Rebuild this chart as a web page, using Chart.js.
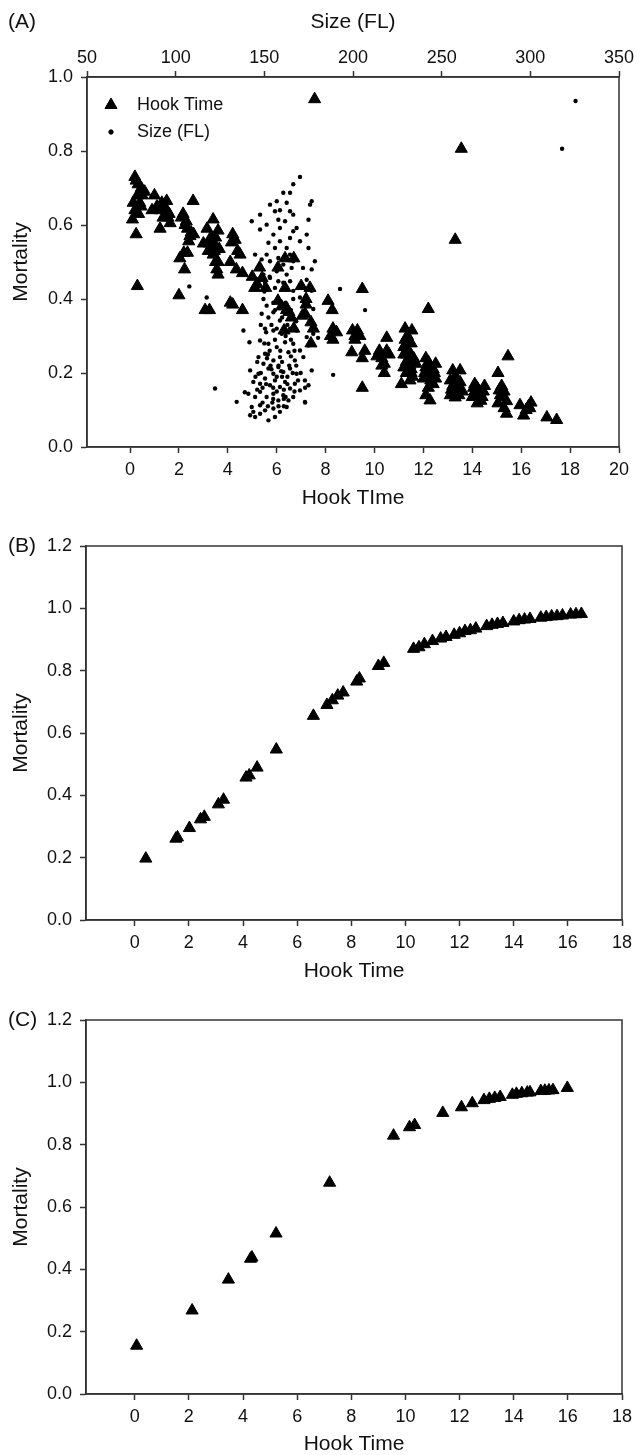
<!DOCTYPE html>
<html>
<head>
<meta charset="utf-8">
<script src="https://cdn.jsdelivr.net/npm/chart.js@4.4.1/dist/chart.umd.min.js"></script>
<style>
  html, body { margin: 0; padding: 0; background: #fff; overflow: hidden; }
  #wrap { position: relative; width: 640px; height: 1455px; }
  canvas { position: absolute; left: 0; }
</style>
</head>
<body>
<div id="wrap">
  <canvas id="chartA" width="640" height="515" style="top:0px"></canvas>
  <canvas id="chartB" width="640" height="470" style="top:515px"></canvas>
  <canvas id="chartC" width="640" height="470" style="top:985px"></canvas>
</div>
<script>
// ---- data ----

// panel A, triangles: hook time vs mortality
const hookTimeA = [
  0.2, 0.33, 0.46, 0.6, 0.13, 0.4, 0.1, 0.35, 0.25, 0.3, 0.25, 0.5, 0.2, 0.45,
  1.0, 1.1, 1.25, 1.23, 1.5, 1.5, 1.35, 1.55, 1.64, 0.9, 1.4, 1.6,
  2.17, 2.3, 2.35, 2.5, 2.4, 2.35, 2.04, 2.23, 2.0, 2.58, 2.1, 2.45, 2.6, 2.2,
  3.15, 3.3, 3.24, 3.45, 3.4, 3.6, 3.5, 3.65, 3.6, 3.6, 3.07, 3.0, 3.2, 3.4, 3.5, 3.3, 3.55, 3.25,
  4.1, 4.6, 4.2, 4.15, 4.4, 4.1, 4.35, 4.6, 5.0, 5.1, 5.3, 5.4, 5.55, 4.5, 4.3, 5.2, 4.2,
  6.34, 6.05, 6.34, 6.7, 6.05, 6.4, 6.5, 6.3, 6.7, 7.0, 7.36, 7.2, 7.2, 7.4, 7.5, 7.4, 7.05, 7.16, 6.6, 6.2, 7.55,
  8.1, 8.27, 8.3, 8.45, 8.3, 9.5, 9.5, 9.1, 9.3, 9.4, 9.07, 9.6, 9.5, 8.2, 9.2,
  10.2, 10.5, 10.5, 10.4, 10.4, 10.1, 10.3, 10.6,
  11.25, 11.53, 11.25, 11.5, 11.2, 11.4, 11.2, 11.5, 11.1, 11.7, 11.55, 11.3, 11.4, 11.6, 11.3, 11.45, 11.35, 12.2,
  12.1, 12.1, 12.3, 12.0, 12.5, 12.4, 12.27, 12.1, 12.2, 12.35, 12.45, 12.2, 12.5,
  13.55, 13.3, 13.2, 13.5, 13.1, 13.4, 13.1, 13.6, 13.3, 13.3, 13.5, 13.2, 13.45,
  14.1, 14.3, 14.0, 14.5, 14.2, 14.4, 14.2, 14.35, 14.1,
  15.05, 15.46, 15.1, 15.25, 15.05, 15.4, 15.4, 15.2, 15.3, 15.95, 16.4, 16.35, 16.1, 16.2, 17.05, 17.45,
  11.3, 11.45, 11.2, 12.25, 12.4, 12.05, 13.25, 13.4, 13.15, 14.25, 14.45, 14.05, 15.15, 15.3, 16.3,
  11.5, 12.3, 13.35, 10.3, 9.2, 3.35, 3.45, 2.25, 0.3, 1.3
];
const mortHookA = [
  0.73, 0.71, 0.70, 0.69, 0.66, 0.66, 0.615, 0.63, 0.575, 0.435, 0.72, 0.68, 0.64, 0.65,
  0.68, 0.65, 0.64, 0.59, 0.665, 0.64, 0.62, 0.62, 0.605, 0.64, 0.65, 0.63,
  0.63, 0.61, 0.59, 0.58, 0.556, 0.525, 0.51, 0.48, 0.41, 0.665, 0.62, 0.57, 0.575, 0.525,
  0.59, 0.566, 0.55, 0.545, 0.615, 0.585, 0.566, 0.535, 0.50, 0.466, 0.37, 0.55, 0.53, 0.52, 0.5, 0.54, 0.48, 0.37,
  0.39, 0.37, 0.575, 0.553, 0.53, 0.50, 0.48, 0.47, 0.46, 0.43, 0.485, 0.457, 0.43, 0.52, 0.56, 0.44, 0.385,
  0.43, 0.485, 0.51, 0.51, 0.395, 0.37, 0.365, 0.315, 0.32, 0.435, 0.43, 0.40, 0.385, 0.337, 0.32, 0.28, 0.355, 0.36, 0.35, 0.38, 0.94,
  0.395, 0.37, 0.32, 0.31, 0.29, 0.427, 0.16, 0.315, 0.315, 0.30, 0.256, 0.26, 0.24, 0.30, 0.29,
  0.26, 0.295, 0.26, 0.225, 0.2, 0.245, 0.24, 0.25,
  0.32, 0.315, 0.29, 0.28, 0.27, 0.233, 0.215, 0.21, 0.17, 0.225, 0.19, 0.25, 0.26, 0.24, 0.2, 0.18, 0.3, 0.373,
  0.24, 0.215, 0.2, 0.185, 0.225, 0.17, 0.126, 0.14, 0.23, 0.19, 0.2, 0.16, 0.185,
  0.806, 0.56, 0.207, 0.207, 0.18, 0.16, 0.14, 0.15, 0.134, 0.19, 0.175, 0.165, 0.14,
  0.17, 0.15, 0.135, 0.165, 0.118, 0.135, 0.16, 0.125, 0.15,
  0.2, 0.245, 0.153, 0.135, 0.118, 0.09, 0.124, 0.165, 0.105, 0.113, 0.12, 0.105, 0.085, 0.1, 0.08, 0.073,
  0.23, 0.22, 0.25, 0.205, 0.21, 0.2, 0.17, 0.18, 0.155, 0.14, 0.15, 0.16, 0.14, 0.15, 0.11,
  0.2, 0.18, 0.15, 0.22, 0.3, 0.56, 0.53, 0.6, 0.68, 0.66
];

// panel A, dots: size (FL) vs mortality
const sizeFL = [
  170.1, 166.3, 164.5, 160.7, 162.6, 164.5, 166.3, 168.2, 166.3, 164.5, 162.6, 164.5, 166.3, 165.4, 162.6, 164.5,
  176.7, 175.8, 174.9, 173.9, 174.9, 178.5, 176.7, 170.1, 171.8,
  142.9, 147.6, 147.6, 153.2, 157, 156, 158.8, 157.9, 151.3, 155.1, 158.8, 152.3, 156, 151.3, 153.2, 148.5, 144.8, 158.8, 157.9, 157, 153.2, 157.9, 149.5, 160.7, 161.7,
  107.7, 117.5, 122.2, 134.4, 138.2, 141.6, 139, 188.8, 192.7, 206.8, 180.3, 173, 173, 317.9, 325.5,
  150.4, 156, 160.7, 166.3, 170.1, 173.9,
  149.5, 151.3, 155.1, 158.8, 162.6, 166.3, 170.1, 173.9, 176.7, 148.5, 152.3, 155.1, 158.8, 164.5, 172.9, 177.6, 150.4, 155.1, 159.8, 164.5, 168.2, 173.9, 177.6,
  147.6, 152.3, 157, 161.7, 166.3, 170.1, 174.9, 146.7, 150.4, 155.1, 158.8, 163.6, 167.2, 172, 176.7, 142, 146.7, 149.5, 152.3, 155.1, 157.9, 160.7, 164.5, 168.2, 172.9, 174.9,
  143.8, 147.6, 150.4, 153.2, 156, 158.8, 161.7, 164.5, 167.2, 170.1, 141, 144.8, 147.6, 151.3, 155.1, 157.9, 160.7, 163.6, 166.3, 172.9,
  142.9, 147.6, 150.4, 155.1, 158.8, 162.6, 142, 144.8, 147.6, 152.3, 156, 143.8,
  153.5, 157, 160, 163, 149, 151.5, 161, 165, 168, 170.5, 146, 159.5, 162, 154.5, 167,
  145, 148, 151, 154, 157, 160, 163, 166, 169, 146, 149, 152, 155, 158, 161, 164, 167,
  150, 153, 156, 159, 162, 165, 148, 151, 154, 157, 160, 163, 152, 155, 158, 161, 156, 159, 162, 165, 168, 153, 150
];
const mortSize = [
  0.73, 0.71, 0.687, 0.687, 0.66, 0.637, 0.628, 0.592, 0.583, 0.565, 0.538, 0.52, 0.502, 0.484, 0.466, 0.448,
  0.664, 0.655, 0.614, 0.574, 0.538, 0.502, 0.48, 0.556, 0.484,
  0.61, 0.628, 0.588, 0.655, 0.664, 0.637, 0.64, 0.614, 0.601, 0.574, 0.592, 0.552, 0.538, 0.52, 0.502, 0.507, 0.52, 0.556, 0.511, 0.475, 0.457, 0.448, 0.466, 0.493, 0.61,
  0.434, 0.404, 0.158, 0.122, 0.315, 0.283, 0.148, 0.195, 0.427, 0.37, 0.295, 0.16, 0.12, 0.806, 0.935,
  0.444, 0.43, 0.444, 0.422, 0.435, 0.452,
  0.40, 0.382, 0.39, 0.395, 0.386, 0.40, 0.404, 0.40, 0.422, 0.36, 0.35, 0.364, 0.342, 0.35, 0.364, 0.373, 0.32, 0.315, 0.306, 0.32, 0.315, 0.297, 0.306,
  0.288, 0.279, 0.27, 0.283, 0.279, 0.261, 0.274, 0.243, 0.252, 0.234, 0.243, 0.256, 0.234, 0.243, 0.207, 0.207, 0.198, 0.225, 0.212, 0.198, 0.216, 0.203, 0.212, 0.198, 0.18, 0.167,
  0.176, 0.171, 0.185, 0.167, 0.18, 0.162, 0.176, 0.158, 0.171, 0.153, 0.144, 0.135, 0.149, 0.135, 0.144, 0.126, 0.14, 0.126, 0.135, 0.122,
  0.108, 0.113, 0.099, 0.104, 0.095, 0.108, 0.086, 0.081, 0.09, 0.072, 0.081, 0.095,
  0.22, 0.19, 0.23, 0.19, 0.16, 0.24, 0.155, 0.245, 0.22, 0.2, 0.155, 0.205, 0.135, 0.12, 0.26,
  0.19, 0.2, 0.17, 0.21, 0.15, 0.19, 0.17, 0.2, 0.18, 0.23, 0.12, 0.25, 0.16, 0.22, 0.13, 0.22, 0.15,
  0.28, 0.26, 0.29, 0.26, 0.3, 0.29, 0.33, 0.31, 0.33, 0.32, 0.35, 0.33, 0.11, 0.13, 0.11, 0.11, 0.37, 0.38, 0.39, 0.37, 0.34, 0.46, 0.42
];

// panel B
const hookTimeB = [0.41, 1.52, 1.58, 2.02, 2.43, 2.57, 3.09, 3.28, 4.11, 4.23, 4.52, 5.23, 6.6, 7.1, 7.3, 7.5, 7.7,
  8.2, 8.3, 9.0, 9.2, 10.3, 10.5, 10.7, 11.0, 11.3, 11.5, 11.8, 12.0, 12.2, 12.4, 12.6, 13.0, 13.2, 13.4, 13.6,
  14.0, 14.2, 14.4, 14.6, 15.0, 15.2, 15.4, 15.6, 15.8, 16.1, 16.3, 16.5];
const mortB = [0.197, 0.261, 0.265, 0.295, 0.323, 0.331, 0.371, 0.386, 0.457, 0.464, 0.489, 0.547, 0.655, 0.69, 0.705, 0.72, 0.73,
  0.765, 0.775, 0.815, 0.825, 0.87, 0.875, 0.885, 0.895, 0.903, 0.908, 0.915, 0.92, 0.927, 0.93, 0.935, 0.943, 0.947, 0.95, 0.953,
  0.958, 0.962, 0.964, 0.966, 0.97, 0.972, 0.974, 0.975, 0.977, 0.98, 0.981, 0.982];

// panel C
const hookTimeC = [0.07, 2.12, 3.46, 4.28, 4.33, 5.22, 7.2, 9.56, 10.15, 10.34, 11.38, 12.07, 12.47, 12.9, 13.1, 13.3, 13.5,
  13.95, 14.1, 14.3, 14.5, 14.6, 15.0, 15.15, 15.3, 15.45, 15.98];
const mortC = [0.155, 0.268, 0.367, 0.434, 0.438, 0.515, 0.678, 0.829, 0.856, 0.863, 0.902, 0.92, 0.933, 0.943, 0.947, 0.95, 0.953,
  0.96, 0.963, 0.965, 0.967, 0.968, 0.972, 0.973, 0.974, 0.975, 0.982];

// tick labels
const hookTicksA = [0, 2, 4, 6, 8, 10, 12, 14, 16, 18, 20];
const sizeTicks = [50, 100, 150, 200, 250, 300, 350];
const mortTicksA = [0, 0.2, 0.4, 0.6, 0.8, 1.0];
const hookTicksBC = [0, 2, 4, 6, 8, 10, 12, 14, 16, 18];
const mortTicksBC = [0, 0.2, 0.4, 0.6, 0.8, 1.0, 1.2];

// ---- drawing ----
const FONT = "'Liberation Sans', Arial, sans-serif";
const INK = '#111';
const AXIS = '#333';
const TRI = 7;

const pairs = (xs, ys) => xs.map((x, i) => ({ x: x, y: ys[i] }));

// box around the plot area + panel letter
const framePlugin = {
  id: 'frame',
  afterDatasetsDraw(chart, args, opts) {
    const { ctx, chartArea: a } = chart;
    ctx.save();
    ctx.strokeStyle = AXIS;
    ctx.lineWidth = 1.5;
    ctx.strokeRect(a.left, a.top, a.right - a.left, a.bottom - a.top);
    ctx.fillStyle = INK;
    ctx.font = '21px ' + FONT;
    ctx.textAlign = 'left';
    ctx.textBaseline = 'middle';
    ctx.fillText(opts.letter, 8, opts.letterY);
    ctx.restore();
  }
};

// legend inside panel A
const keyPlugin = {
  id: 'key',
  afterDatasetsDraw(chart, args, opts) {
    if (!opts.items) return;
    const { ctx } = chart;
    ctx.save();
    ctx.font = '18px ' + FONT;
    ctx.textAlign = 'left';
    ctx.textBaseline = 'middle';
    opts.items.forEach((it, i) => {
      const y = opts.y + i * opts.gap;
      ctx.fillStyle = '#000';
      ctx.strokeStyle = '#000';
      Chart.helpers.drawPoint(ctx, { pointStyle: it.style, radius: it.radius, borderWidth: 1 }, opts.x, y);
      ctx.fillStyle = INK;
      ctx.fillText(it.text, opts.x + 26, y);
    });
    ctx.restore();
  }
};

function axisBase(extra) {
  return Object.assign({
    type: 'linear',
    grid: { drawOnChartArea: false, drawTicks: true, tickLength: 6, tickColor: AXIS, tickWidth: 1.5 },
    border: { display: true, color: AXIS, width: 1.5 },
  }, extra);
}

function tickSet(list) {
  return s => { s.ticks = list.map(v => ({ value: v })); };
}

function titleOpt(text, padding) {
  return { display: true, text: text, color: INK, font: { family: FONT, size: 21, lineHeight: 1 }, padding: padding };
}

function tickOpt(padding, fmt) {
  return { color: INK, font: { family: FONT, size: 18 }, padding: padding, callback: fmt };
}

function triSet(label, data, xAxis) {
  return {
    label: label, data: data, xAxisID: xAxis, yAxisID: 'y',
    pointStyle: 'triangle', pointRadius: TRI, pointHoverRadius: TRI,
    backgroundColor: '#000', borderColor: '#000', borderWidth: 1
  };
}

const baseOptions = {
  responsive: false,
  animation: false,
  events: [],
  plugins: { legend: { display: false }, tooltip: { enabled: false } }
};

// panel A
new Chart(document.getElementById('chartA'), {
  type: 'scatter',
  data: {
    datasets: [
      triSet('Hook Time', pairs(hookTimeA, mortHookA), 'x'),
      {
        label: 'Size (FL)', data: pairs(sizeFL, mortSize), xAxisID: 'x2', yAxisID: 'y',
        pointStyle: 'circle', pointRadius: 2.2, pointHoverRadius: 2.2,
        backgroundColor: '#000', borderColor: '#000', borderWidth: 0
      }
    ]
  },
  options: Object.assign({}, baseOptions, {
    layout: { padding: { left: 0, right: 21, top: 0, bottom: 0 } },
    plugins: Object.assign({}, baseOptions.plugins, {
      frame: { letter: '(A)', letterY: 22 },
      key: { x: 111, y: 105, gap: 27, items: [
        { text: 'Hook Time', style: 'triangle', radius: TRI },
        { text: 'Size (FL)', style: 'circle', radius: 2.2 }
      ] }
    }),
    scales: {
      x: axisBase({
        position: 'bottom', min: -1.76, max: 20,
        afterBuildTicks: tickSet(hookTicksA),
        afterFit: s => { s.height = 68; },
        ticks: tickOpt(6, v => String(v)),
        title: titleOpt('Hook TIme', { top: 0, bottom: 6 })
      }),
      x2: axisBase({
        position: 'top', min: 50, max: 350,
        afterBuildTicks: tickSet(sizeTicks),
        afterFit: s => { s.height = 77; },
        ticks: tickOpt(2, v => String(v)),
        title: titleOpt('Size (FL)', { top: 12, bottom: 0 })
      }),
      y: axisBase({
        position: 'left', min: 0, max: 1,
        afterBuildTicks: tickSet(mortTicksA),
        afterFit: s => { s.width = 87; },
        ticks: tickOpt(8, v => v.toFixed(1)),
        title: titleOpt('Mortality', { top: 11, bottom: 0 })
      })
    }
  }),
  plugins: [framePlugin, keyPlugin]
});

function lowerPanel(id, letter, hx, my, topPad, xBoxH, titlePadBottom) {
  new Chart(document.getElementById(id), {
    type: 'scatter',
    data: { datasets: [triSet('Hook Time', pairs(hx, my), 'x')] },
    options: Object.assign({}, baseOptions, {
      layout: { padding: { left: 0, right: 18, top: topPad, bottom: 0 } },
      plugins: Object.assign({}, baseOptions.plugins, {
        frame: { letter: letter, letterY: topPad },
        key: {}
      }),
      scales: {
        x: axisBase({
          position: 'bottom', min: -1.8, max: 18,
          afterBuildTicks: tickSet(hookTicksBC),
          afterFit: s => { s.height = xBoxH; },
          ticks: tickOpt(6, v => String(v)),
          title: titleOpt('Hook Time', { top: 0, bottom: titlePadBottom })
        }),
        y: axisBase({
          position: 'left', min: 0, max: 1.2,
          afterBuildTicks: tickSet(mortTicksBC),
          afterFit: s => { s.width = 86; },
          ticks: tickOpt(8, v => v.toFixed(1)),
          title: titleOpt('Mortality', { top: 11, bottom: 0 })
        })
      }
    }),
    plugins: [framePlugin, keyPlugin]
  });
}

lowerPanel('chartB', '(B)', hookTimeB, mortB, 31, 65, 3);
lowerPanel('chartC', '(C)', hookTimeC, mortC, 35, 61, 0);
</script>
</body>
</html>
